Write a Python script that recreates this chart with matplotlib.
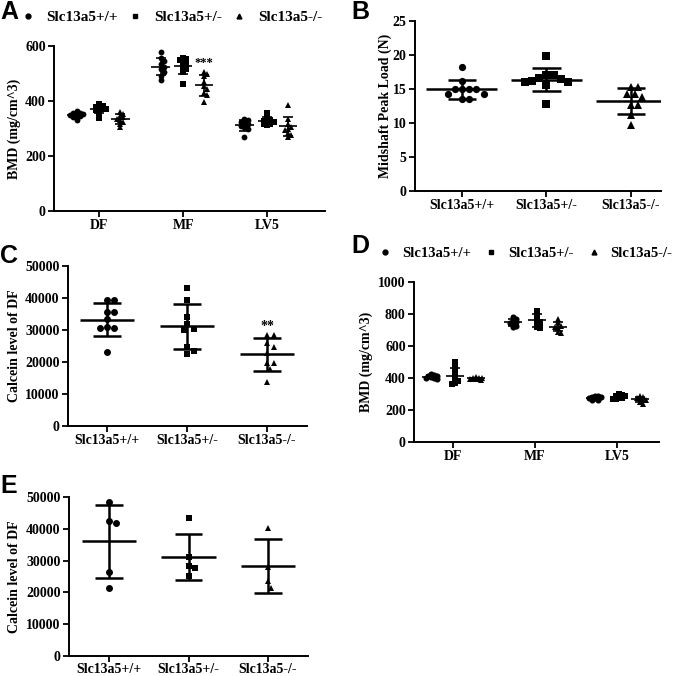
import numpy as np
import matplotlib
matplotlib.use("Agg")
import matplotlib.pyplot as plt
from matplotlib.lines import Line2D

# ---------------- data ----------------
groups = ["Slc13a5+/+", "Slc13a5+/-", "Slc13a5-/-"]
sites = ["DF", "MF", "LV5"]

# Panel A: BMD (mg/cm^3), 9 mice per group
bmdA_wt = {"DF": [362, 358, 355, 352, 350, 348, 345, 340, 332],
           "MF": [578, 555, 545, 535, 525, 515, 505, 490, 478],
           "LV5": [335, 330, 325, 320, 315, 310, 305, 298, 268]}
bmdA_het = {"DF": [388, 382, 378, 375, 372, 370, 366, 360, 338],
            "MF": [555, 552, 548, 540, 532, 525, 515, 505, 462],
            "LV5": [355, 338, 332, 328, 325, 322, 318, 315, 312]}
bmdA_ko = {"DF": [360, 352, 345, 340, 335, 330, 325, 318, 305],
           "MF": [505, 500, 490, 470, 455, 445, 430, 420, 398],
           "LV5": [385, 335, 315, 305, 300, 295, 285, 278, 270]}

# Panel B: midshaft peak load (N)
loadB_wt = [18.2, 16.2, 15.0, 15.0, 15.0, 15.0, 14.2, 14.2, 13.5, 13.5]
loadB_het = [19.9, 17.1, 17.0, 16.6, 16.5, 16.1, 16.1, 16.2, 15.6, 12.8]
loadB_ko = [15.3, 15.3, 14.3, 14.3, 13.8, 12.6, 12.6, 11.2, 9.7]

# Panel C: calcein level of DF
calC_wt = [39500, 39500, 35700, 35700, 33300, 31000, 30500, 30500, 23100]
calC_het = [43200, 39500, 34200, 32000, 30300, 30000, 24800, 23400, 22600]
calC_ko = [28500, 28500, 26000, 24700, 22900, 19700, 19700, 17800, 13600]

# Panel D: BMD (mg/cm^3), 8 mice per group
bmdD_wt = {"DF": [425, 420, 415, 410, 405, 400, 398, 395],
           "MF": [780, 770, 760, 750, 745, 740, 725, 720],
           "LV5": [290, 285, 283, 280, 278, 275, 265, 260]}
bmdD_het = {"DF": [500, 470, 440, 410, 390, 380, 370, 365],
            "MF": [820, 800, 780, 760, 750, 740, 720, 710],
            "LV5": [300, 295, 290, 285, 280, 275, 270, 268]}
bmdD_ko = {"DF": [405, 402, 400, 398, 396, 394, 392, 390],
           "MF": [770, 750, 730, 725, 720, 710, 690, 680],
           "LV5": [290, 280, 275, 270, 265, 260, 250, 240]}

# Panel E: calcein level of DF (older mice)
calE_wt = [48400, 42300, 41700, 26500, 21300]
calE_het = [43500, 31200, 27700, 28300, 25200]
calE_ko = [40400, 28000, 23600, 21500]

markers = ["o", "s", "^"]

plt.rcParams["font.family"] = ["Liberation Serif", "DejaVu Serif"]
plt.rcParams["font.weight"] = "bold"
plt.rcParams["axes.labelweight"] = "bold"

W = 676
fig = plt.figure(figsize=(6.76, 6.76), dpi=100)


def add_ax(left, right, top, bottom):
    return fig.add_axes([left / W, 1 - bottom / W, (right - left) / W, (bottom - top) / W])


def style(ax, xlim, ylim, yticks, ylabel, labx):
    ax.set_xlim(*xlim)
    ax.set_ylim(*ylim)
    ax.set_yticks(yticks)
    for s in ["top", "right"]:
        ax.spines[s].set_visible(False)
    for s in ["left", "bottom"]:
        ax.spines[s].set_linewidth(1.4)
    ax.tick_params(axis="both", which="major", length=4, width=1.3, labelsize=10, pad=2)
    for lab in ax.get_yticklabels() + ax.get_xticklabels():
        lab.set_fontweight("bold")
    ax.set_ylabel(ylabel, fontsize=10, fontweight="bold")
    ax.yaxis.set_label_coords(labx, 0.5)


def swarm(ax, values, center, diam_px, factor, max_hw_px):
    """Deterministic, width-limited beeswarm offsets in data units."""
    bbox = ax.get_position()
    wpx = bbox.width * W
    hpx = bbox.height * W
    x0, x1 = ax.get_xlim()
    y0, y1 = ax.get_ylim()
    sx = wpx / (x1 - x0)
    sy = hpx / (y1 - y0)
    vals = np.asarray(values, float)
    order = np.argsort(-vals)
    dist = diam_px * factor
    step = dist * 0.5
    nmax = int(max_hw_px / step)
    cands = [0.0]
    for k in range(1, nmax + 1):
        cands += [k * step, -k * step]
    placed = []
    xs = np.zeros(len(vals))
    for i in order:
        ypx = vals[i] * sy
        best, bestd = None, -1
        for c in cands:
            dmin = min([np.hypot(c - px, ypx - py) for px, py in placed] or [1e9])
            if dmin >= dist:
                best = c
                break
            if dmin > bestd:
                bestd, best = dmin, c
        placed.append((best, ypx))
        xs[i] = center + best / sx
    return xs


def group_plot(ax, values, center, marker, ms, mean_hw, cap_hw, lw, factor, max_hw):
    ms_px = ms * 100 / 72
    xs = swarm(ax, values, center, ms_px, factor, max_hw)
    ax.plot(xs, values, linestyle="none", marker=marker, color="black",
            markersize=ms, markeredgewidth=0, zorder=3)
    m = np.mean(values)
    sd = np.std(values, ddof=1)
    ax.hlines(m, center - mean_hw, center + mean_hw, color="black", lw=lw, zorder=4)
    ax.hlines([m - sd, m + sd], center - cap_hw, center + cap_hw, color="black", lw=lw, zorder=4)
    ax.vlines(center, m - sd, m + sd, color="black", lw=lw, zorder=4)


def legend(anchor_px, size, colsp, tpad):
    handles = [Line2D([], [], linestyle="none", marker=mk, color="black", markersize=3.5)
               for mk in markers]
    fig.legend(handles, groups, loc="center", ncol=3, frameon=False,
               bbox_to_anchor=(anchor_px[0] / W, 1 - anchor_px[1] / W),
               prop={"family": "Liberation Serif", "weight": "bold", "size": size},
               handlelength=1.0, handletextpad=tpad, columnspacing=colsp)


def letter(x, y, s):
    fig.text(x / W, 1 - y / W, s, family="Liberation Sans", weight="bold",
             fontsize=18, ha="center", va="center")


# ---------------- Panel A ----------------
axA = add_ax(54, 325, 46, 211)
style(axA, (-0.54, 2.69), (0, 600), [0, 200, 400, 600], "BMD (mg/cm^3)", -0.122)
axA.set_xticks(range(3))
axA.set_xticklabels(sites)
offsA = [-0.27, 0.0, 0.25]
for si, s in enumerate(sites):
    for gi, d in enumerate([bmdA_wt, bmdA_het, bmdA_ko]):
        group_plot(axA, d[s], si + offsA[gi], markers[gi], 4.2, 0.11, 0.06, 1.2, 0.55, 7)
axA.text(1 + offsA[2], max(bmdA_ko["MF"]) + 32, "***", ha="center", va="center", fontsize=9,
         fontweight="bold")
legend((171, 17), 11, 0.6, 0.75)
letter(9, 12, "A")

# ---------------- Panel B ----------------
axB = add_ax(415, 661, 21, 191)
style(axB, (-0.556, 2.355), (0, 25), [0, 5, 10, 15, 20, 25], "Midshaft Peak Load (N)", -0.094)
axB.set_xticks(range(3))
axB.set_xticklabels(groups)
for gi, d in enumerate([loadB_wt, loadB_het, loadB_ko]):
    group_plot(axB, d, gi, markers[gi], 5.2, 0.42, 0.17, 1.8, 1.0, 28)
letter(360, 12, "B")

# ---------------- Panel C ----------------
axC = add_ax(68, 307, 266, 426)
style(axC, (-0.4875, 2.5), (0, 50000), list(range(0, 50001, 10000)), "Calcein level of DF", -0.197)
axC.set_xticks(range(3))
axC.set_xticklabels(groups)
for gi, d in enumerate([calC_wt, calC_het, calC_ko]):
    group_plot(axC, d, gi, markers[gi], 5.0, 0.34, 0.17, 1.8, 1.0, 22)
axC.text(2, max(calC_ko) + 2500, "**", ha="center", va="center", fontsize=10, fontweight="bold")
letter(9, 256, "C")

# ---------------- Panel D ----------------
axD = add_ax(414, 659, 282, 442)
style(axD, (-0.476, 2.51), (0, 1000), [0, 200, 400, 600, 800, 1000], "BMD (mg/cm^3)", -0.167)
axD.set_xticks(range(3))
axD.set_xticklabels(sites)
offsD = [-0.27, 0.02, 0.28]
for si, s in enumerate(sites):
    for gi, d in enumerate([bmdD_wt, bmdD_het, bmdD_ko]):
        group_plot(axD, d[s], si + offsD[gi], markers[gi], 4.4, 0.11, 0.06, 1.2, 0.5, 7)
legend((525, 253), 10.5, 0.9, 0.65)
letter(360, 246, "D")

# ---------------- Panel E ----------------
axE = add_ax(69, 308, 497, 656)
style(axE, (-0.503, 2.503), (0, 50000), list(range(0, 50001, 10000)), "Calcein level of DF", -0.2)
axE.set_xticks(range(3))
axE.set_xticklabels(groups)
axE.tick_params(axis="x", pad=1)
for gi, d in enumerate([calE_wt, calE_het, calE_ko]):
    group_plot(axE, d, gi, markers[gi], 5.0, 0.34, 0.17, 1.8, 1.0, 22)
letter(9, 486, "E")

fig.savefig("out.png", dpi=100)
